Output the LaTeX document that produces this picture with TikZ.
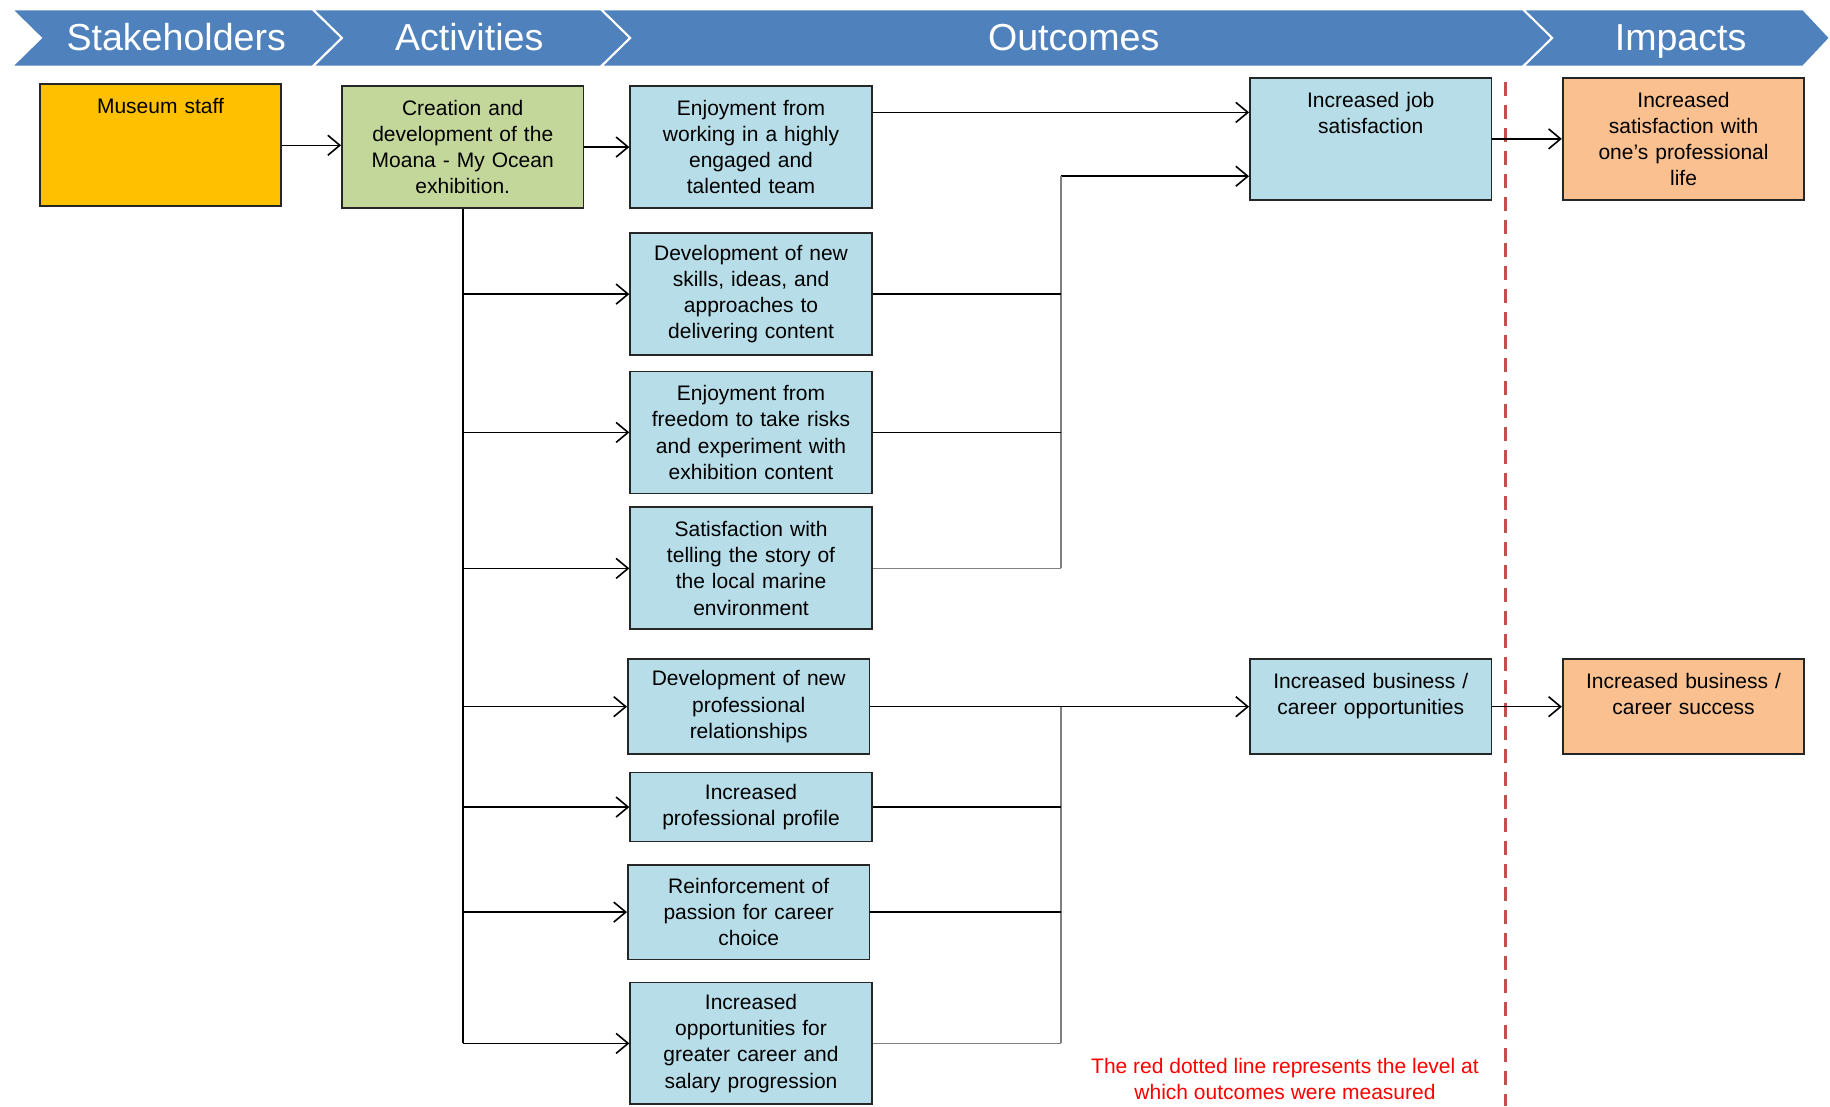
\documentclass[tikz,border=0pt]{standalone}
\usepackage{fontspec}
\setmainfont{Liberation Sans}
\usetikzlibrary{arrows.meta, calc}
\definecolor{bannerblue}{HTML}{4F81BD}
\definecolor{boxblue}{HTML}{B7DDE8}
\definecolor{boxgreen}{HTML}{C4D79B}
\definecolor{boxgold}{HTML}{FFC000}
\definecolor{boxpeach}{HTML}{FAC090}
\definecolor{dashred}{HTML}{C0504D}

\begin{document}
\begin{tikzpicture}[x=0.5836pt,y=-0.5836pt,>={Straight Barb[length=6pt,width=10pt]},
    box/.style={draw=black!85,line width=0.9pt,fill=boxblue,minimum width=120.8pt,minimum height=61pt,
      text width=114pt,align=center,inner sep=1pt,font=\fontsize{10.5}{13.1}\selectfont},
    mid/.style={box,minimum height=47.5pt},
    low/.style={box,minimum height=34.5pt},
    band/.style={fill=bannerblue,draw=white,line width=1pt},
    head/.style={text=white,text height=13.5pt,text depth=3.5pt,font=\fontsize{18.8}{22}\selectfont},
    link/.style={line width=0.8pt},
    grey/.style={link,draw=black!50}]
    \useasboundingbox (0,0) rectangle (1568,948);

    \path[band] (10,8) -- (268,8) -- (293,32.5) -- (268,57) -- (10,57) -- (35,32.5) -- cycle;
    \path[band] (268,8) -- (515,8) -- (540,32.5) -- (515,57) -- (268,57) -- (293,32.5) -- cycle;
    \path[band] (515,8) -- (1305,8) -- (1330,32.5) -- (1305,57) -- (515,57) -- (540,32.5) -- cycle;
    \path[band] (1305,8) -- (1545,8) -- (1568,32.5) -- (1545,57) -- (1305,57) -- (1330,32.5) -- cycle;
    \node[head] (hS) at (151,35) {Stakeholders};
    \node[head] (hA) at (402,35) {Activities};
    \node[head] (hO) at (920,35) {Outcomes};
    \node[head] (hI) at (1440,35) {Impacts};

    \coordinate (m1) at (1290,70);
    \coordinate (m2) at (1290,948);
    \draw[dashred,line width=1.6pt,dash pattern=on 7pt off 4.5pt] (m1) -- (m2);

    \node[box,fill=boxgold] (S) at (137.5,124.5) {Museum staff\\~\\~\\~};
    \node[box,fill=boxgreen] (A) at (396.5,126) {Creation and\\development of the\\Moana - My Ocean\\exhibition.};
    \node[box] (O1) at (643.5,126) {Enjoyment from\\working in a highly\\engaged and\\talented team};
    \node[box] (O2) at (643.5,252) {Development of new\\skills, ideas, and\\approaches to\\delivering content};
    \node[box] (O3) at (643.5,370.5) {Enjoyment from\\freedom to take risks\\and experiment with\\exhibition content};
    \node[box] (O4) at (643.5,487) {Satisfaction with\\telling the story of\\the local marine\\environment};
    \node[mid] (O5) at (641.5,605.5) {Development of new\\professional\\relationships};
    \node[low] (O6) at (643.5,691.5) {Increased\\professional profile};
    \node[mid] (O7) at (641.5,781.5) {Reinforcement of\\passion for career\\choice};
    \node[box] (O8) at (643.5,894) {Increased\\opportunities for\\greater career and\\salary progression};
    \node[box] (J) at (1174.5,119) {Increased job\\satisfaction\\~\\~};
    \node[mid] (B) at (1174.5,605.5) {Increased business /\\career opportunities\\~};
    \node[box,fill=boxpeach] (I1) at (1442.5,119) {Increased\\satisfaction with\\one’s professional\\life};
    \node[mid,fill=boxpeach] (I2) at (1442.5,605.5) {Increased business /\\career success\\~};

    \draw[->,link] (S.east) -- (S.east -| A.west);
    \draw[->,link] (A.east) -- (O1.west);
    \draw[link] (A.south) -- (A.south |- O8.west);
    \foreach \n in {O2,O3,O4,O5,O6,O7,O8}
        \draw[->,link] (A.south |- \n.west) -- (\n.west);

    \coordinate (jt) at ($(O1.north east)!0.22!(O1.south east)$);
    \draw[->,link] (jt) -- (jt -| J.west);
    \coordinate (b1) at (909,151);
    \draw[->,link] (b1) -- (b1 -| J.west);
    \draw[grey] (b1) -- (b1 |- O4.east);
    \draw[link] (O2.east) -- (O2.east -| b1);
    \draw[link] (O3.east) -- (O3.east -| b1);
    \draw[grey] (O4.east) -- (O4.east -| b1);

    \coordinate (b2) at (909,605.5);
    \draw[->,link] (O5.east) -- (O5.east -| B.west);
    \draw[grey] (b2) -- (b2 |- O8.east);
    \draw[link] (O6.east) -- (O6.east -| b2);
    \draw[link] (O7.east) -- (O7.east -| b2);
    \draw[grey] (O8.east) -- (O8.east -| b2);

    \draw[->,link] (J.east) -- (J.east -| I1.west);
    \draw[->,link] (B.east) -- (I2.west);

    \node[text=red,align=center,font=\fontsize{10.5}{13.1}\selectfont] (note) at (1101,924.5)
        {The red dotted line represents the level at\\which outcomes were measured};
\end{tikzpicture}
\end{document}
